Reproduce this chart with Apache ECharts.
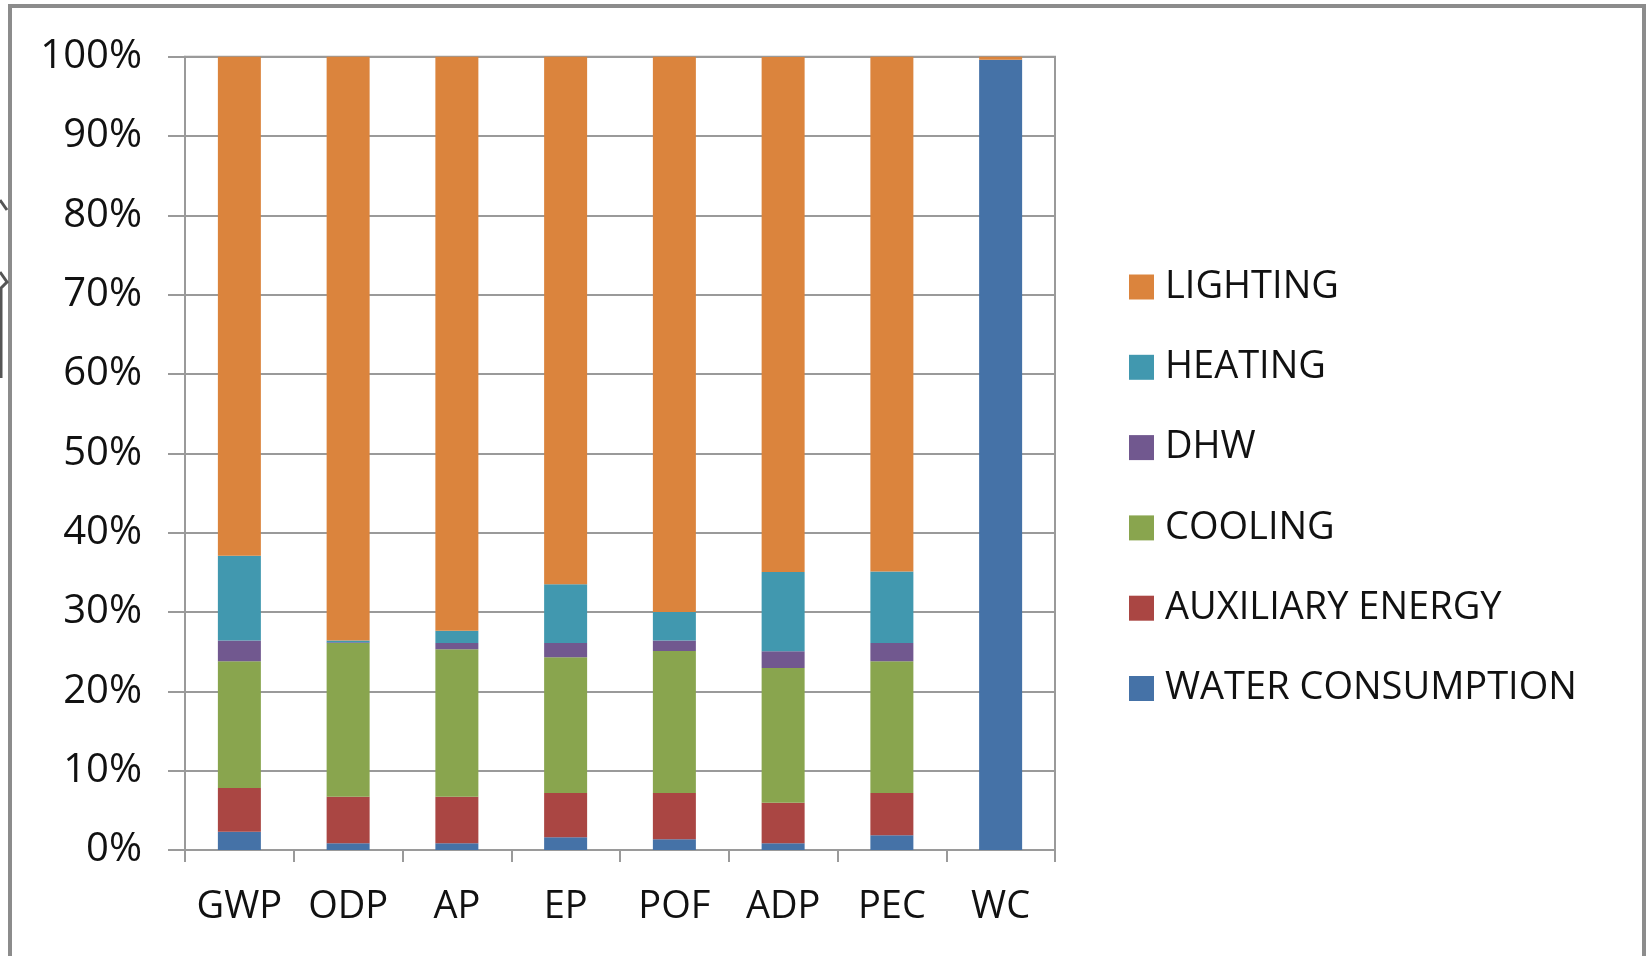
<!DOCTYPE html>
<html>
<head>
<meta charset="utf-8">
<script src="https://cdn.jsdelivr.net/npm/echarts@6/dist/echarts.min.js"></script>
<style>
html,body{margin:0;padding:0;background:#fff;}
#chart{width:1647px;height:956px;}
</style>
</head>
<body>
<div id="chart"></div>
<script>
const categories = ['GWP', 'ODP', 'AP', 'EP', 'POF', 'ADP', 'PEC', 'WC'];
const waterConsumption = [2.3, 0.85, 0.85, 1.6, 1.35, 0.85, 1.85, 99.6];
const auxiliaryEnergy  = [5.5, 5.85, 5.85, 5.6, 5.85, 5.1, 5.35, 0];
const cooling          = [16.0, 19.4, 18.6, 17.1, 17.9, 17.0, 16.6, 0];
const dhw              = [2.6, 0.1, 0.8, 1.8, 1.3, 2.1, 2.3, 0];
const heating          = [10.7, 0.2, 1.55, 7.4, 3.6, 10.0, 9.0, 0];
const lighting         = [62.9, 73.6, 72.35, 66.5, 70.0, 64.9, 64.9, 0.4];
const yTicks = [0, 10, 20, 30, 40, 50, 60, 70, 80, 90, 100];

const FONT = "'Open Sans', 'Liberation Sans', sans-serif";
const seriesDefs = [
  {name: 'WATER CONSUMPTION', data: waterConsumption, color: '#4572A7'},
  {name: 'AUXILIARY ENERGY', data: auxiliaryEnergy, color: '#AA4643'},
  {name: 'COOLING', data: cooling, color: '#89A54E'},
  {name: 'DHW', data: dhw, color: '#71588F'},
  {name: 'HEATING', data: heating, color: '#4198AF'},
  {name: 'LIGHTING', data: lighting, color: '#DB843D'}
];

const chart = echarts.init(document.getElementById('chart'));
chart.setOption({
  animation: false,
  backgroundColor: '#fff',
  graphic: [
    {type: 'polyline', shape: {points: [[10, 980], [10, 6], [1644, 6], [1644, 980]]},
     style: {stroke: '#8c8c8c', lineWidth: 4, fill: null}},
    {type: 'polyline', shape: {points: [[0, 200], [7, 210]]}, style: {stroke: '#555', lineWidth: 3, fill: null}},
    {type: 'polyline', shape: {points: [[0, 272], [7, 282], [1, 288], [1, 378]]}, style: {stroke: '#555', lineWidth: 3, fill: null}}
  ],
  grid: {left: 185, right: 592, top: 56.7, bottom: 106, show: true, borderColor: '#9a9a9a', borderWidth: 2, containLabel: false},
  legend: {
    orient: 'vertical',
    left: 1129,
    top: 268,
    padding: 0,
    itemWidth: 25,
    itemHeight: 25,
    itemGap: 42.3,
    icon: 'rect',
    data: seriesDefs.map(s => s.name).reverse(),
    textStyle: {fontFamily: FONT, fontSize: 38, color: '#111', lineHeight: 36, padding: [0, 0, 0, 6]}
  },
  xAxis: {
    type: 'category',
    data: categories,
    axisLine: {lineStyle: {color: '#9a9a9a', width: 2}},
    axisTick: {show: true, interval: 0, length: 12, lineStyle: {color: '#9a9a9a', width: 2}},
    axisLabel: {fontFamily: FONT, fontSize: 38, color: '#111', margin: 38, interval: 0, hideOverlap: false}
  },
  yAxis: {
    type: 'value',
    min: 0, max: 100, interval: 10,
    axisLine: {show: true, lineStyle: {color: '#9a9a9a', width: 2}},
    axisTick: {show: true, length: 17, lineStyle: {color: '#9a9a9a', width: 2}},
    splitLine: {lineStyle: {color: '#9a9a9a', width: 2}},
    axisLabel: {fontFamily: FONT, fontSize: 40, color: '#111', margin: 43,
      formatter: v => yTicks.includes(v) ? v + '%' : ''}
  },
  series: seriesDefs.map(s => ({
    name: s.name,
    type: 'bar',
    stack: 'total',
    barWidth: 43,
    data: s.data,
    itemStyle: {color: s.color}
  }))
});
</script>
</body>
</html>
